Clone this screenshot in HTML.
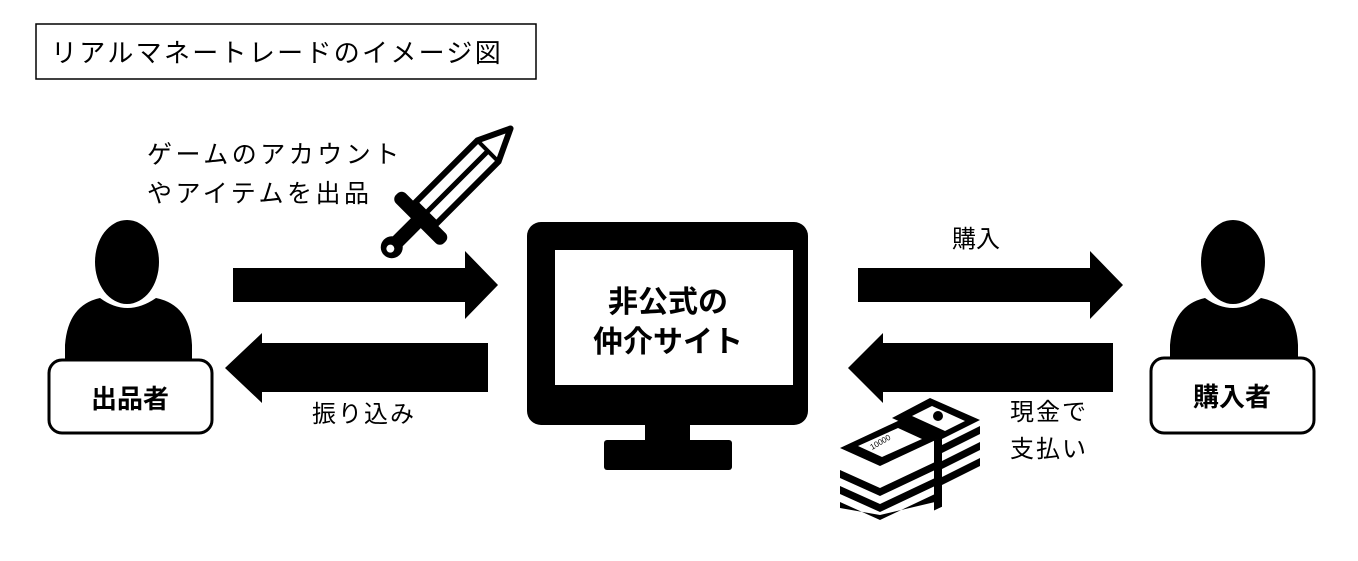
<!DOCTYPE html>
<html><head><meta charset="utf-8"><style>
html,body{margin:0;padding:0;background:#fff;}
svg text{font-family:"Liberation Sans","Noto Sans CJK JP",sans-serif;}
</style></head><body>
<svg width="1358" height="556" viewBox="0 0 1358 556" xmlns="http://www.w3.org/2000/svg">
<rect x="36" y="24" width="500" height="55" fill="#fff" stroke="#000" stroke-width="1.5"/>
<text x="51" y="62" font-size="26" letter-spacing="2.3">リアルマネートレードのイメージ図</text>

<text x="147" y="163" font-size="25" letter-spacing="3.5">ゲームのアカウント</text>
<text x="147" y="202" font-size="25" letter-spacing="3.5">やアイテムを出品</text>

<!-- sword -->
<g transform="translate(396,243) rotate(-45)">
  <circle cx="-6" cy="0" r="11" fill="#000"/>
  <circle cx="-8" cy="0" r="4" fill="#fff"/>
  <rect x="0" y="-7" width="36" height="14" fill="#000"/>
  <rect x="28" y="-34" width="14" height="68" rx="6" fill="#000"/>
  <path d="M42 -15 L130 -15 L162 0 L130 15 L42 15 Z" fill="#fff" stroke="#000" stroke-width="6" stroke-linejoin="round"/>
  <line x1="42" y1="0" x2="130" y2="0" stroke="#000" stroke-width="5"/>
  <line x1="130" y1="-15" x2="130" y2="15" stroke="#000" stroke-width="4"/>
</g>

<!-- left person -->
<ellipse cx="127" cy="262" rx="32" ry="42" fill="#000"/>
<path d="M65 375 L65 345 Q68 305 100 298 Q127 318 156 298 Q190 305 192 345 L192 375 Z" fill="#000"/>
<rect x="49" y="360" width="163" height="73" rx="13" fill="#fff" stroke="#000" stroke-width="3"/>
<text x="130" y="408" font-size="26" font-weight="bold" text-anchor="middle">出品者</text>

<!-- right person -->
<ellipse cx="1233" cy="262" rx="32" ry="42" fill="#000"/>
<path d="M1170 375 L1170 345 Q1173 305 1205 298 Q1233 318 1261 298 Q1296 305 1298 345 L1298 375 Z" fill="#000"/>
<rect x="1151" y="358" width="163" height="75" rx="13" fill="#fff" stroke="#000" stroke-width="3"/>
<text x="1232" y="406" font-size="26" font-weight="bold" text-anchor="middle">購入者</text>

<!-- arrows -->
<path d="M233 268 L465 268 L465 251 L498 285 L465 319 L465 302 L233 302 Z" fill="#000"/>
<path d="M488 343 L262 343 L262 333 L225 368 L262 403 L262 392 L488 392 Z" fill="#000"/>
<path d="M858 268 L1090 268 L1090 251 L1123 285 L1090 319 L1090 302 L858 302 Z" fill="#000"/>
<path d="M1113 343 L883 343 L883 333 L848 368 L883 403 L883 392 L1113 392 Z" fill="#000"/>

<text x="952" y="247" font-size="24">購入</text>
<text x="312" y="422" font-size="24" letter-spacing="2">振り込み</text>
<text x="1010" y="420" font-size="24" letter-spacing="2">現金で</text>
<text x="1010" y="457" font-size="24" letter-spacing="2">支払い</text>

<!-- monitor -->
<rect x="527" y="222" width="281" height="203" rx="14" fill="#000"/>
<rect x="555" y="250" width="238" height="135" fill="#fff"/>
<rect x="645" y="420" width="45" height="25" fill="#000"/>
<rect x="604" y="440" width="128" height="30" rx="3" fill="#000"/>
<text x="668" y="312" font-size="30" font-weight="bold" text-anchor="middle">非公式の</text>
<text x="668" y="352" font-size="30" font-weight="bold" text-anchor="middle">仲介サイト</text>

<!-- money -->
<g>
  <path d="M840 448 L900 420 L940 438 L880 466 Z" fill="#000"/>
  <path d="M858 446 L898 428 L922 439 L882 457 Z" fill="#fff"/>
  <text x="0" y="0" font-size="8" transform="translate(872,450) rotate(-30)">10000</text>
  <path d="M892 418 L930 398 L980 420 L940 440 Z" fill="#000"/>
  <path d="M912 416 L932 406 L965 421 L945 431 Z" fill="#fff"/>
  <circle cx="938" cy="416" r="5" fill="#000"/>
  <g fill="#000">
    <path d="M840 470 L880 488 L935 462 L935 470 L880 496 L840 478 Z"/>
    <path d="M840 486 L880 504 L935 478 L935 486 L880 512 L840 494 Z"/>
    <path d="M840 502 L880 520 L935 494 L935 502 L880 515 L840 508 Z"/>
    <path d="M940 446 L980 426 L980 434 L940 454 Z"/>
    <path d="M940 462 L980 442 L980 450 L940 470 Z"/>
    <path d="M940 478 L980 458 L980 466 L940 486 Z"/>
    <rect x="934" y="440" width="8" height="70" transform="skewY(-25) translate(0,436)"/>
  </g>
</g>
</svg>
</body></html>
